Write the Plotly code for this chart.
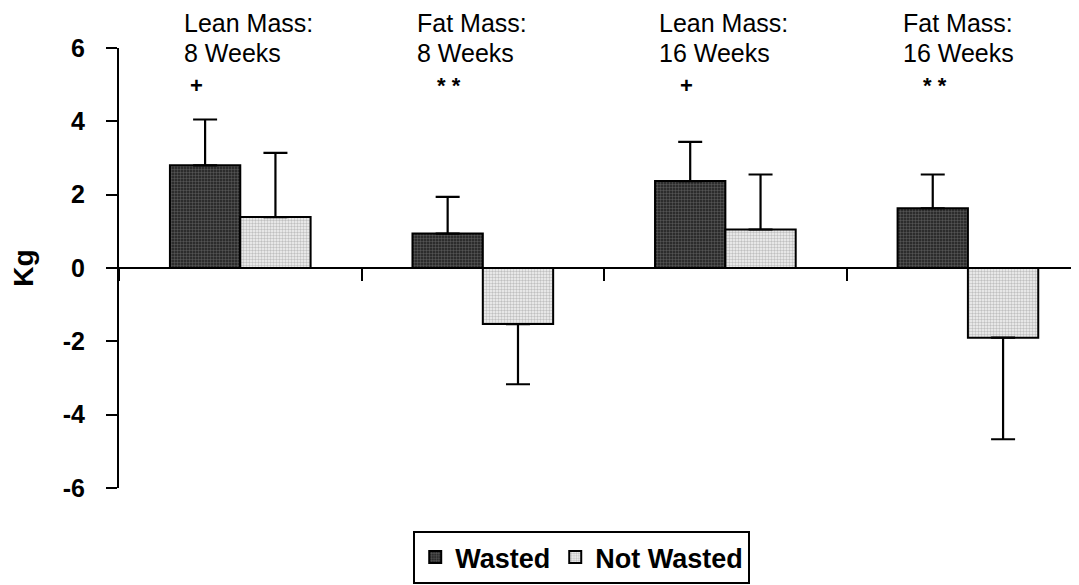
import plotly.graph_objects as go

# ---- data ----
categories = ["Lean Mass: 8 Weeks", "Fat Mass: 8 Weeks", "Lean Mass: 16 Weeks", "Fat Mass: 16 Weeks"]
label_line1 = ["Lean Mass:", "Fat Mass:", "Lean Mass:", "Fat Mass:"]
label_line2 = ["8 Weeks", "8 Weeks", "16 Weeks", "16 Weeks"]
significance = ["+", "* *", "+", "* *"]

wasted = [2.80, 0.94, 2.37, 1.63]
wasted_err = [1.25, 1.00, 1.07, 0.92]
not_wasted = [1.39, -1.53, 1.05, -1.90]
not_wasted_err = [1.75, 1.64, 1.50, 2.77]

y_ticks = [-6, -4, -2, 0, 2, 4, 6]
y_tick_labels = ["-6", "-4", "-2", "0", "2", "4", "6"]
series_names = ["Wasted", "Not Wasted"]

FONT = "Arial, Liberation Sans, sans-serif"


def one_sided(values, errs):
    up = [e if v >= 0 else 0 for v, e in zip(values, errs)]
    down = [e if v < 0 else 0 for v, e in zip(values, errs)]
    return up, down


fig = go.Figure()

for name, vals, errs, bg, fg in [
    (series_names[0], wasted, wasted_err, "#1e1e1e", "#8a8a8a"),
    (series_names[1], not_wasted, not_wasted_err, "#f4f4f4", "#8c8c8c"),
]:
    up, down = one_sided(vals, errs)
    fig.add_trace(go.Bar(
        name=name,
        x=categories,
        y=vals,
        marker=dict(
            color=bg,
            line=dict(color="black", width=2),
            pattern=dict(shape=".", fgcolor=fg, bgcolor=bg, size=3, solidity=0.5, fillmode="overlay"),
        ),
        error_y=dict(type="data", symmetric=False, array=up, arrayminus=down,
                     color="black", thickness=2.2, width=12),
    ))

# page body has an 8 px margin; plot area spans window px 48..488 vertically
def py(px):
    return (488 - px) / 440


annotations = []
shift_labels = [-58, -68, -68, -67]
shift_sig = [-44, -34, -39, -33]
for i, cat in enumerate(categories):
    annotations.append(dict(x=cat, xref="x", y=py(23), yref="paper", text=label_line1[i],
                            xanchor="left", yanchor="middle", xshift=shift_labels[i], showarrow=False,
                            font=dict(family=FONT, size=25, color="black")))
    annotations.append(dict(x=cat, xref="x", y=py(53), yref="paper", text=label_line2[i],
                            xanchor="left", yanchor="middle", xshift=shift_labels[i], showarrow=False,
                            font=dict(family=FONT, size=25, color="black")))
    annotations.append(dict(x=cat, xref="x", y=py(85), yref="paper", text=significance[i],
                            xanchor="center", yanchor="middle", xshift=shift_sig[i], showarrow=False,
                            font=dict(family=FONT, size=22, color="black", weight="bold")))

fig.update_layout(
    width=1071, height=577, autosize=False,
    margin=dict(l=111, r=0, t=40, b=97, autoexpand=False),
    paper_bgcolor="white", plot_bgcolor="white",
    barmode="group", bargap=0.42, bargroupgap=0,
    font=dict(family=FONT, color="black"),
    xaxis=dict(
        type="category", range=[-0.5, 3.458],
        showline=True, linecolor="black", linewidth=2,
        anchor="free", position=0.5,
        ticks="outside", tickson="boundaries", ticklen=12, tickwidth=2, tickcolor="black",
        showticklabels=False, showgrid=False, zeroline=False, automargin=False,
    ),
    yaxis=dict(
        range=[-6, 6], tickvals=y_ticks, ticktext=y_tick_labels,
        showline=True, linecolor="black", linewidth=2,
        ticks="outside", ticklen=11, tickwidth=2, tickcolor="black",
        ticklabelstandoff=16, automargin=False,
        tickfont=dict(family=FONT, size=25, color="black", weight="bold"),
        showgrid=False, zeroline=False,
        title=dict(text="Kg", standoff=24, font=dict(family=FONT, size=28, color="black", weight="bold")),
    ),
    showlegend=True,
    legend=dict(
        orientation="h", x=0.482, xanchor="center", y=py(531), yanchor="top",
        bordercolor="black", borderwidth=2, bgcolor="white",
        font=dict(family=FONT, size=27, color="black", weight="bold"),
        itemwidth=30, traceorder="normal",
    ),
    annotations=annotations,
)

fig.write_html("out.html")
